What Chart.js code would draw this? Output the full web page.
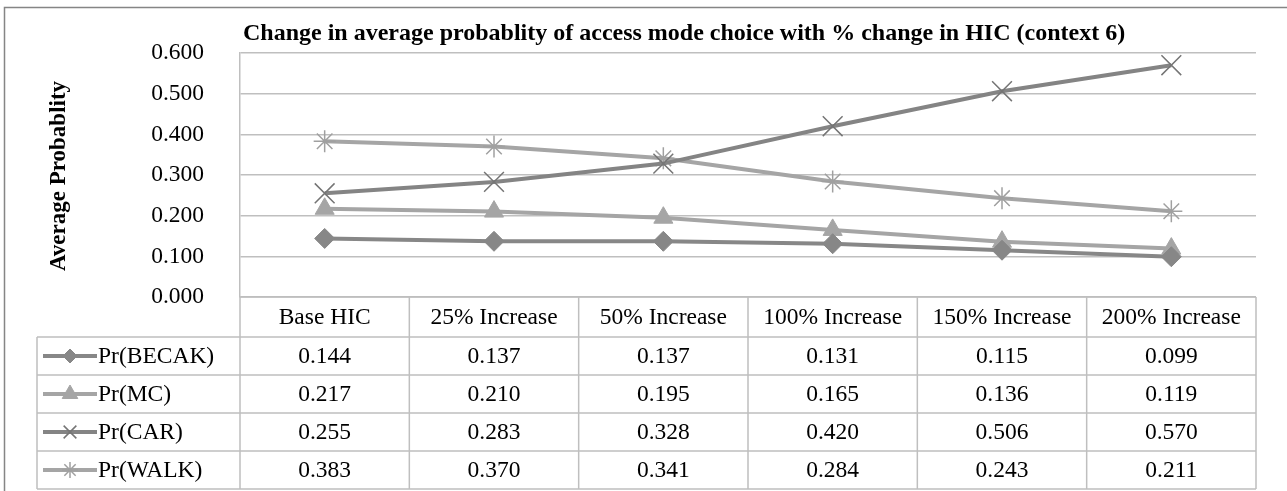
<!DOCTYPE html>
<html lang="en">
<head>
    <meta charset="UTF-8">
    <title>Change in average probablity of access mode choice</title>
    <script src="https://cdn.jsdelivr.net/npm/chart.js"></script>
    <style>
        body {
            margin: 0;
            background: #ffffff;
        }
        .chart-box {
            width: 1287px;
            height: 491px;
            position: relative;
        }
    </style>
</head>
<body>
    <div class="chart-box">
        <canvas id="accessChart"></canvas>
    </div>

    <script>
        // data
        const categories = ['Base HIC', '25% Increase', '50% Increase', '100% Increase', '150% Increase', '200% Increase'];
        const becak = [0.144, 0.137, 0.137, 0.131, 0.115, 0.099];
        const mc = [0.217, 0.210, 0.195, 0.165, 0.136, 0.119];
        const car = [0.255, 0.283, 0.328, 0.420, 0.506, 0.570];
        const walk = [0.383, 0.370, 0.341, 0.284, 0.243, 0.211];
        const seriesNames = ['Pr(BECAK)', 'Pr(MC)', 'Pr(CAR)', 'Pr(WALK)'];
        const yTicks = [0, 0.1, 0.2, 0.3, 0.4, 0.5, 0.6];

        const chartTitle = 'Change in average probablity of access mode choice with % change in HIC (context 6)';
        const yTitle = 'Average Probablity';
        const FONT = '"Liberation Serif", "Times New Roman", serif';
        const FSIZE = 23.5;
        const GRID = '#bfbfbf';

        const rowTop = 337;
        const rowH = 38;
        const tableLeft = 37;

        // draws the title, axis title, outer frame and the data table
        const tablePlugin = {
            id: 'tablePlugin',
            afterDraw(chart) {
                const ctx = chart.ctx;
                const area = chart.chartArea;
                const xs = chart.scales.x;
                const n = categories.length;
                const colW = (area.right - area.left) / n;
                const tableBottom = rowTop + rowH * seriesNames.length;

                ctx.save();

                // outer frame
                ctx.strokeStyle = '#858585';
                ctx.lineWidth = 1.5;
                ctx.strokeRect(4.5, 7.5, 1300, 520);

                // chart title
                ctx.fillStyle = '#000';
                ctx.font = 'bold 24px ' + FONT;
                ctx.textAlign = 'left';
                ctx.textBaseline = 'alphabetic';
                ctx.fillText(chartTitle, 243, 40);

                // y axis title
                ctx.save();
                ctx.font = 'bold 23px ' + FONT;
                ctx.translate(65, 176);
                ctx.rotate(-Math.PI / 2);
                ctx.textAlign = 'center';
                ctx.textBaseline = 'alphabetic';
                ctx.fillText(yTitle, 0, 0);
                ctx.restore();

                // table grid
                ctx.strokeStyle = GRID;
                ctx.lineWidth = 1.5;
                ctx.beginPath();
                ctx.moveTo(area.left, area.bottom);
                ctx.lineTo(area.right, area.bottom);
                for (let r = 0; r <= seriesNames.length; r++) {
                    const y = rowTop + r * rowH;
                    ctx.moveTo(tableLeft, y);
                    ctx.lineTo(area.right, y);
                }
                ctx.moveTo(tableLeft, rowTop);
                ctx.lineTo(tableLeft, tableBottom);
                for (let c = 0; c <= n; c++) {
                    const x = area.left + c * colW;
                    ctx.moveTo(x, area.bottom);
                    ctx.lineTo(x, tableBottom);
                }
                ctx.stroke();

                // category labels
                ctx.fillStyle = '#000';
                ctx.font = FSIZE + 'px ' + FONT;
                ctx.textAlign = 'center';
                ctx.textBaseline = 'middle';
                categories.forEach((c, i) => {
                    ctx.fillText(c, xs.getPixelForValue(i), (area.bottom + rowTop) / 2 + 1);
                });

                // rows
                chart.data.datasets.forEach((ds, r) => {
                    const cy = rowTop + r * rowH + rowH / 2 + 1;
                    ds.data.forEach((v, i) => {
                        ctx.textAlign = 'center';
                        ctx.fillText(v.toFixed(3), xs.getPixelForValue(i), cy);
                    });
                    // legend key
                    ctx.strokeStyle = ds.borderColor;
                    ctx.lineWidth = 4;
                    ctx.beginPath();
                    ctx.moveTo(43, cy - 1);
                    ctx.lineTo(97, cy - 1);
                    ctx.stroke();
                    const opts = {
                        pointStyle: ds.pointStyle,
                        radius: ds.legendRadius,
                        borderWidth: ds.pointBorderWidth,
                        rotation: 0
                    };
                    ctx.fillStyle = ds.pointBackgroundColor;
                    ctx.strokeStyle = ds.pointBorderColor;
                    ctx.lineWidth = ds.pointBorderWidth;
                    Chart.helpers.drawPoint(ctx, opts, 70, cy - 1);
                    ctx.fillStyle = '#000';
                    ctx.textAlign = 'left';
                    ctx.fillText(ds.label, 98, cy);
                });

                ctx.restore();
            }
        };

        const ctx = document.getElementById('accessChart').getContext('2d');
        new Chart(ctx, {
            type: 'line',
            data: {
                labels: categories,
                datasets: [
                    {
                        label: seriesNames[0],
                        data: becak,
                        borderColor: '#878787',
                        borderWidth: 4,
                        pointStyle: 'rectRot',
                        pointRadius: 10,
                        legendRadius: 7,
                        pointBackgroundColor: '#878787',
                        pointBorderColor: '#878787',
                        pointBorderWidth: 1
                    },
                    {
                        label: seriesNames[1],
                        data: mc,
                        borderColor: '#a5a5a5',
                        borderWidth: 4,
                        pointStyle: 'triangle',
                        pointRadius: 11,
                        legendRadius: 9,
                        pointBackgroundColor: '#a5a5a5',
                        pointBorderColor: '#a5a5a5',
                        pointBorderWidth: 1
                    },
                    {
                        label: seriesNames[2],
                        data: car,
                        borderColor: '#848484',
                        borderWidth: 4,
                        pointStyle: 'crossRot',
                        pointRadius: 14,
                        legendRadius: 9,
                        pointBackgroundColor: '#757575',
                        pointBorderColor: '#757575',
                        pointBorderWidth: 1.5
                    },
                    {
                        label: seriesNames[3],
                        data: walk,
                        borderColor: '#a5a5a5',
                        borderWidth: 4,
                        pointStyle: 'star',
                        pointRadius: 11,
                        legendRadius: 8,
                        pointBackgroundColor: '#a0a0a0',
                        pointBorderColor: '#a0a0a0',
                        pointBorderWidth: 1.5
                    }
                ]
            },
            options: {
                responsive: true,
                maintainAspectRatio: false,
                animation: false,
                layout: {
                    padding: { left: 0, top: 53, right: 31, bottom: 194 }
                },
                plugins: {
                    legend: { display: false },
                    title: { display: false },
                    tooltip: { enabled: false }
                },
                scales: {
                    x: {
                        offset: true,
                        grid: { display: false },
                        border: { display: false },
                        ticks: { display: false },
                        afterFit(scale) { scale.height = 0; }
                    },
                    y: {
                        min: 0,
                        max: 0.6,
                        afterFit(scale) { scale.width = 240; },
                        afterBuildTicks(scale) {
                            scale.ticks = yTicks.map(v => ({ value: v }));
                        },
                        grid: {
                            color: GRID,
                            lineWidth: 1.5,
                            drawTicks: false
                        },
                        border: { display: true, color: GRID, width: 1.5 },
                        ticks: {
                            padding: 36,
                            color: '#000',
                            font: { family: FONT, size: FSIZE },
                            callback: v => v.toFixed(3)
                        }
                    }
                }
            },
            plugins: [tablePlugin]
        });
    </script>
</body>
</html>
